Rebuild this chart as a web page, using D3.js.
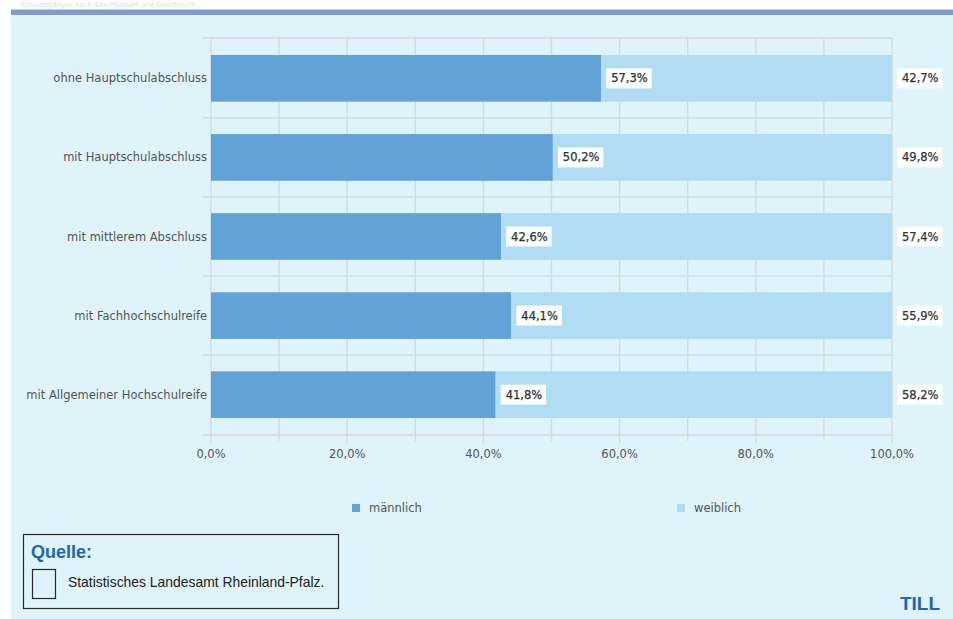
<!DOCTYPE html>
<html>
<head>
<meta charset="utf-8">
<script src="https://cdn.jsdelivr.net/npm/d3@7"></script>
<style>
  html, body { margin: 0; padding: 0; background: #ffffff; }
  svg { display: block; }
</style>
</head>
<body>
<svg id="chart" width="953" height="619"></svg>
<script>
// Schulabgänger nach Abschlussart und Geschlecht (Anteile in %)
const categories = [
  "ohne Hauptschulabschluss",
  "mit Hauptschulabschluss",
  "mit mittlerem Abschluss",
  "mit Fachhochschulreife",
  "mit Allgemeiner Hochschulreife"
];
const maleValues = [57.3, 50.2, 42.6, 44.1, 41.8];
const femaleValues = [42.7, 49.8, 57.4, 55.9, 58.2];
const seriesNames = ["männlich", "weiblich"];
const xTicks = [0, 20, 40, 60, 80, 100];
const xMinorTicks = [10, 30, 50, 70, 90];

const colors = { male: "#62a3d7", female: "#b0dcf4" };
const fmt = v => d3.format(".1f")(v).replace(".", ",") + "%";
const labelFont = "'DejaVu Sans', Verdana, sans-serif";

const svg = d3.select("#chart");

// Panel background with header stripe
svg.append("rect").attr("x", 11).attr("y", 10).attr("width", 942).attr("height", 609)
  .attr("fill", "#dff3fa");
svg.append("rect").attr("x", 11).attr("y", 9).attr("width", 942).attr("height", 1)
  .attr("fill", "#c9d2ea");
svg.append("rect").attr("x", 11).attr("y", 10).attr("width", 942).attr("height", 5)
  .attr("fill", "#7f9bd3");
svg.append("text").attr("x", 20).attr("y", 7)
  .attr("font-family", labelFont).attr("font-size", 7).attr("fill", "#d3dff2")
  .text("Schulabgänger nach Abschlussart und Geschlecht");

const x = d3.scaleLinear().domain([0, 100]).range([211, 892]);
const y = d3.scaleBand().domain(categories).range([38, 435])
  .paddingInner(0.41).paddingOuter(0.215);

const gridColor = "#d5d8da";
const g = svg.append("g");

// Vertical gridlines at every 10 %
g.selectAll("line.vgrid").data(xTicks.concat(xMinorTicks)).join("line")
  .attr("class", "vgrid")
  .attr("x1", d => x(d)).attr("x2", d => x(d))
  .attr("y1", 38).attr("y2", d => (d % 20 === 0 ? 443 : 441))
  .attr("stroke", gridColor).attr("stroke-width", 1.3);

// Category separators (top, between categories, bottom axis line)
const step = y.step();
const seps = [38].concat(categories.slice(1).map(c => y(c) - step * y.paddingInner() / 2)).concat([435]);
g.selectAll("line.hgrid").data(seps).join("line")
  .attr("class", "hgrid")
  .attr("x1", 203).attr("x2", 892)
  .attr("y1", d => d).attr("y2", d => d)
  .attr("stroke", gridColor).attr("stroke-width", 1.3);

// Stacked bars
const rows = categories.map((c, i) => ({ c, m: maleValues[i], f: femaleValues[i] }));
g.selectAll("rect.male").data(rows).join("rect")
  .attr("x", x(0)).attr("y", d => y(d.c))
  .attr("width", d => x(d.m) - x(0)).attr("height", y.bandwidth())
  .attr("fill", colors.male);
g.selectAll("rect.female").data(rows).join("rect")
  .attr("x", d => x(d.m)).attr("y", d => y(d.c))
  .attr("width", d => x(d.m + d.f) - x(d.m)).attr("height", y.bandwidth())
  .attr("fill", colors.female);

// Value labels in white boxes
function valueLabel(px, cy, text) {
  const lg = g.append("g");
  const t = lg.append("text")
    .attr("x", px + 5).attr("y", cy + 4)
    .attr("font-family", labelFont).attr("font-size", 11.5).attr("fill", "#333")
    .attr("stroke", "#333").attr("stroke-width", 0.25)
    .text(text);
  const w = t.node().getComputedTextLength();
  lg.insert("rect", "text")
    .attr("x", px).attr("y", cy - 10).attr("width", w + 9).attr("height", 20)
    .attr("fill", "#ffffff").attr("fill-opacity", 0.95);
}
rows.forEach(d => {
  const cy = y(d.c) + y.bandwidth() / 2;
  valueLabel(x(d.m) + 5, cy, fmt(d.m));
  valueLabel(x(d.m + d.f) + 5, cy, fmt(d.f));
});

// Category labels
g.selectAll("text.cat").data(categories).join("text")
  .attr("x", 207).attr("y", d => y(d) + y.bandwidth() / 2 + 4)
  .attr("text-anchor", "end")
  .attr("font-family", labelFont).attr("font-size", 11.5).attr("fill", "#555")
  .text(d => d);

// X tick labels
g.selectAll("text.xt").data(xTicks).join("text")
  .attr("x", d => x(d)).attr("y", 458)
  .attr("text-anchor", "middle")
  .attr("font-family", labelFont).attr("font-size", 11.5).attr("fill", "#555")
  .text(d => fmt(d));

// Legend
const legendX = [352, 677];
seriesNames.forEach((name, i) => {
  svg.append("rect").attr("x", legendX[i]).attr("y", 504).attr("width", 8).attr("height", 8)
    .attr("fill", i === 0 ? colors.male : colors.female);
  svg.append("text").attr("x", legendX[i] + 17).attr("y", 512)
    .attr("font-family", labelFont).attr("font-size", 11.5).attr("fill", "#555")
    .text(name);
});

// Source box
const srcFont = "'Liberation Sans', Arial, sans-serif";
svg.append("rect").attr("x", 23.5).attr("y", 534.5).attr("width", 315).attr("height", 74)
  .attr("fill", "none").attr("stroke", "#2a2a2a").attr("stroke-width", 1.2);
svg.append("text").attr("x", 31).attr("y", 558)
  .attr("font-family", srcFont).attr("font-size", 18).attr("font-weight", "bold")
  .attr("fill", "#1c68b5").text("Quelle:");
svg.append("rect").attr("x", 32.5).attr("y", 569.5).attr("width", 23).attr("height", 29)
  .attr("fill", "none").attr("stroke", "#2a2a2a").attr("stroke-width", 1.2);
svg.append("text").attr("x", 68).attr("y", 587)
  .attr("font-family", srcFont).attr("font-size", 13.9).attr("fill", "#222")
  .text("Statistisches Landesamt Rheinland-Pfalz.");

svg.append("text").attr("x", 940).attr("y", 610).attr("text-anchor", "end")
  .attr("font-family", srcFont).attr("font-size", 19).attr("font-weight", "bold")
  .attr("fill", "#1c68b5").text("TILL");
</script>
</body>
</html>
